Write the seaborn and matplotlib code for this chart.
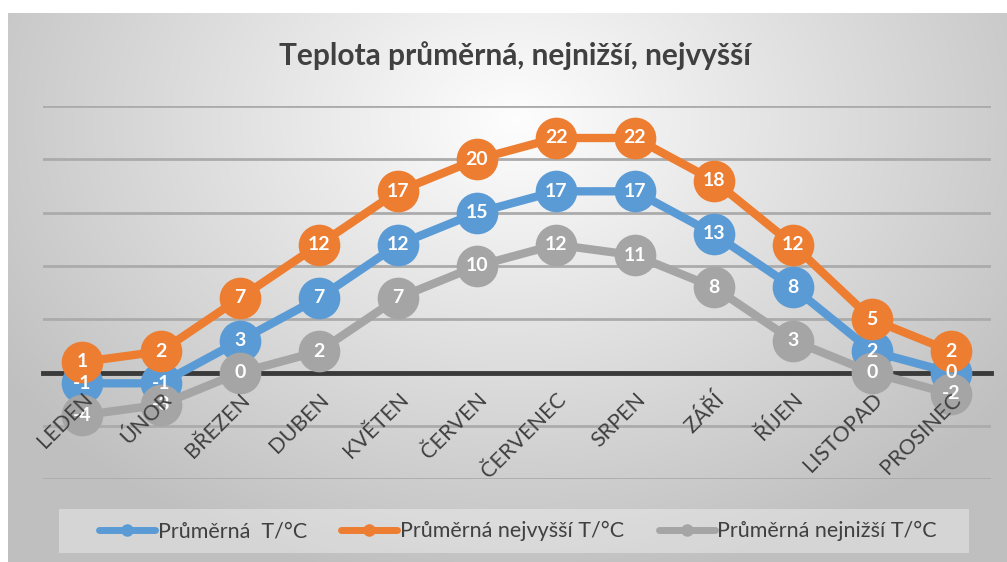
import numpy as np
import pandas as pd
import matplotlib
matplotlib.use("Agg")
import matplotlib.pyplot as plt
from matplotlib.lines import Line2D
from matplotlib.patches import Rectangle
import seaborn as sns

months = ["LEDEN", "ÚNOR", "BŘEZEN", "DUBEN", "KVĚTEN", "ČERVEN",
          "ČERVENEC", "SRPEN", "ZÁŘÍ", "ŘÍJEN", "LISTOPAD", "PROSINEC"]
avg_t = [-1, -1, 3, 7, 12, 15, 17, 17, 13, 8, 2, 0]
max_t = [1, 2, 7, 12, 17, 20, 22, 22, 18, 12, 5, 2]
min_t = [-4, -3, 0, 2, 7, 10, 12, 11, 8, 3, 0, -2]
series_names = ["Průměrná  T/°C", "Průměrná nejvyšší T/°C", "Průměrná nejnižší T/°C"]
title = "Teplota průměrná, nejnižší, nejvyšší"

colors = ["#5B9BD5", "#ED7D31", "#A5A5A5"]
txt = "#404040"

sns.set_theme(style="white")
plt.rcParams["font.family"] = ["Lato", "DejaVu Sans"]

W, H = 1007, 562
fig = plt.figure(figsize=(W / 100, H / 100), dpi=100)

# background with radial gradient
bg = fig.add_axes([0, 0, 1, 1], zorder=-10)
bg.set_xlim(0, W)
bg.set_ylim(H, 0)
bg.axis("off")
yy, xx = np.mgrid[0:H, 0:W]
r = np.sqrt(((xx - 515) / 680.0) ** 2 + ((yy - 120) / 520.0) ** 2)
val = np.clip(0.995 - 0.27 * r, 0.75, 1.0)
img = np.dstack([val, val, val])
img[:13, :, :] = 1.0
img[:, :8, :] = 1.0
bg.imshow(img, extent=[0, W, H, 0], aspect="auto", interpolation="bilinear")
bg.add_patch(Rectangle((59, 509), 910, 44, facecolor="white", alpha=0.35, edgecolor="none"))

ax = fig.add_axes([42.5 / W, 1 - 479.3 / H, 948 / W, (479.3 - 106) / H])
ax.patch.set_alpha(0)

df = pd.DataFrame({"x": np.arange(len(months))})
for vals, c, name in zip([avg_t, max_t, min_t], colors, series_names):
    sns.lineplot(x=df["x"], y=vals, ax=ax, color=c, linewidth=6, marker="o",
                 markersize=30, markeredgewidth=0, zorder=3, legend=False)

for vals in [avg_t, max_t, min_t]:
    for i, v in enumerate(vals):
        ax.text(i, v, f"{v}", color="white", fontsize=14, fontweight="bold",
                ha="center", va="center", zorder=6)

ax.set_xlim(-0.5, len(months) - 0.5)
ax.set_ylim(-10, 25)
ax.set_yticks(np.arange(-10, 26, 5))
ax.set_yticklabels([])
ax.tick_params(axis="y", length=0)
ax.yaxis.grid(True, color="#ababab", linewidth=2.0)
ax.set_axisbelow(True)
for s in ["left", "right", "top"]:
    ax.spines[s].set_visible(False)
ax.spines["bottom"].set_position(("data", 0))
ax.spines["bottom"].set_color("#3a3a3a")
ax.spines["bottom"].set_linewidth(3.5)
ax.spines["bottom"].set_zorder(2)
ax.set_xticks(np.arange(len(months)))
ax.set_xticklabels(months, rotation=45, ha="right", rotation_mode="anchor",
                   fontsize=15.5, color=txt)
ax.tick_params(axis="x", length=0, pad=12)
ax.xaxis.set_zorder(8)
ax.set_xlabel("")
ax.set_ylabel("")

fig.text(515 / W, 1 - 56 / H, title, ha="center", va="center", fontsize=21.5,
         fontweight="bold", color=txt)

handles = [Line2D([0], [0], color=c, lw=5, marker="o", markersize=9, markeredgewidth=0)
           for c in colors]
leg = fig.legend(handles, series_names, loc="center", bbox_to_anchor=(518 / W, 1 - 531 / H),
                 ncol=3, frameon=False, fontsize=15.5, handlelength=2.6,
                 handletextpad=0.12, columnspacing=1.6)
for t in leg.get_texts():
    t.set_color(txt)

fig.savefig("out.png", dpi=100)
